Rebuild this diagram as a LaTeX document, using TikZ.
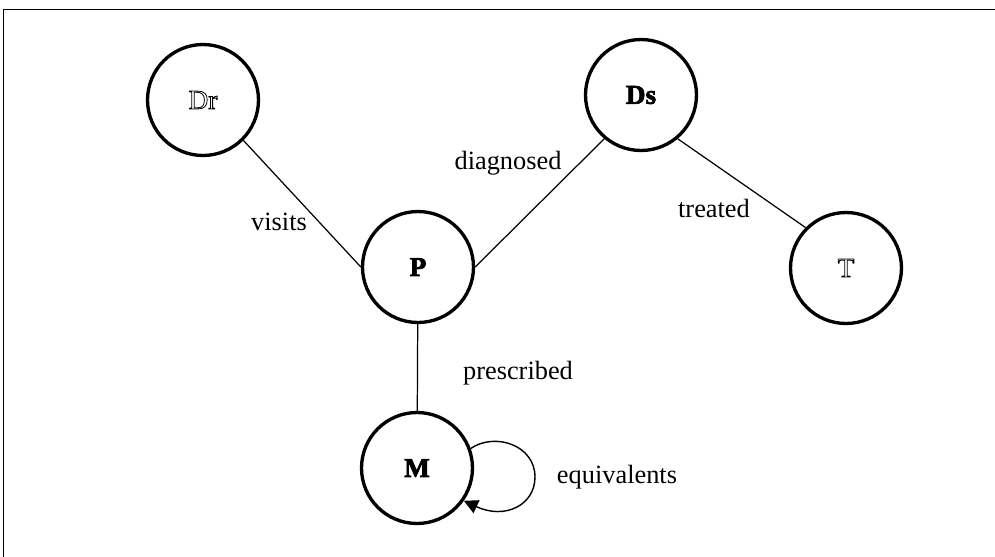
\documentclass[tikz,border=0pt]{standalone}
\usepackage{fontspec}
\setmainfont{Liberation Serif}
\usepackage{tikz}
\usetikzlibrary{arrows.meta}
% hollow (outlined) letters, as in the node labels
\newcommand{\hollow}[1]{\special{pdf:literal 1 Tr 0.45 w}#1}
\newcommand{\hollowbf}[1]{\special{pdf:literal 2 Tr 0.4 w}\textbf{#1}}

\begin{document}
\begin{tikzpicture}[
  x=0.02cm, y=-0.02cm,
  ent/.style={
    draw, circle, line width=1.9pt, minimum size=2.22cm,
    inner sep=0pt, font=\fontsize{15.5}{18}\selectfont
  },
  rel/.style={font=\fontsize{15}{18}\selectfont, inner sep=0pt},
  link/.style={line width=0.7pt},
]
\useasboundingbox (0,0) rectangle (995,556);
\clip (0,0) rectangle (995,556);
% outer frame (cut off right and below)
\draw[line width=1pt] (3.5,1000) |- (1200,9.5);

% entities
\node[ent] (doctor)  at (203,100) {\hollow{Dr}};
\node[ent] (disease) at (641,95)  {\hollowbf{Ds}};
\node[ent] (patient) at (418,267) {\hollowbf{P}};
\node[ent] (treat)   at (846,268) {\hollow{T}};
\node[ent] (med)     at (417,468) {\hollowbf{M}};

% relations
\draw[link] (doctor.-45) -- (patient.west);
\draw[link] (patient.east) -- (disease.-130);
\draw[link] (disease.-50) -- (treat.135);
\draw[link] (patient) -- (med);
\draw[line width=0.8pt,-{Triangle[length=8pt,width=8pt]}]
  (med.20) .. controls (495,432) and (535,445) .. (535,477)
  .. controls (535,505) and (505,520) .. (med.-35);

% relation labels
\node[rel] (lvisits) at (279,222) {visits};
\node[rel] (ldiag)   at (508,163) {diagnosed};
\node[rel] (ltreat)  at (714,208) {treated};
\node[rel] (lpres)   at (518,373) {prescribed};
\node[rel] (lequiv)  at (617,477) {equivalents};
\end{tikzpicture}
\end{document}
